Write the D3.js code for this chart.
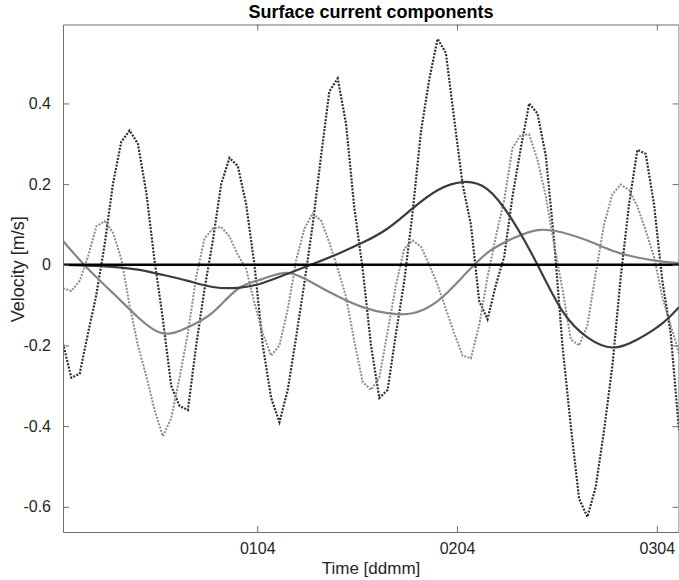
<!DOCTYPE html>
<html>
<head>
<meta charset="utf-8">
<script src="https://cdn.jsdelivr.net/npm/d3@7"></script>
<style>
	body { margin: 0; background: #fff; }
	svg { display: block; font-family: 'Liberation Sans', Arial, sans-serif; }
</style>
</head>
<body>
<svg id="chart" width="679" height="580"></svg>
<script>
'use strict';

// hourly samples, hour 0 = 31 Mar 00:40
const hours = d3.range(75);
const tideU = [-0.195, -0.28, -0.27, -0.17, -0.075, 0.05, 0.2, 0.305, 0.333, 0.3,
	0.18, 0.01, -0.135, -0.3, -0.35, -0.36, -0.2, -0.06, 0.06, 0.2,
	0.265, 0.245, 0.15, 0.0, -0.2, -0.33, -0.39, -0.31, -0.18, -0.045,
	0.1, 0.27, 0.43, 0.462, 0.35, 0.14, -0.01, -0.2, -0.33, -0.31,
	-0.17, -0.04, 0.13, 0.33, 0.46, 0.56, 0.525, 0.36, 0.2, 0.1,
	-0.09, -0.135, -0.05, 0.02, 0.17, 0.29, 0.4, 0.375, 0.27, 0.06,
	-0.2, -0.4, -0.58, -0.625, -0.55, -0.41, -0.25, -0.03, 0.15, 0.285,
	0.275, 0.15, -0.04, -0.17, -0.41];
const tideV = [-0.058, -0.065, -0.04, 0.02, 0.095, 0.108, 0.08, 0.015, -0.1, -0.2,
	-0.275, -0.36, -0.425, -0.38, -0.28, -0.17, -0.03, 0.065, 0.09, 0.094,
	0.07, 0.025, -0.01, -0.095, -0.17, -0.225, -0.2, -0.11, 0.01, 0.09,
	0.127, 0.11, 0.055, -0.01, -0.08, -0.19, -0.29, -0.31, -0.28, -0.165,
	-0.05, 0.04, 0.06, 0.045, 0.0, -0.05, -0.11, -0.17, -0.225, -0.232,
	-0.15, -0.03, 0.07, 0.16, 0.29, 0.322, 0.323, 0.26, 0.17, 0.05,
	-0.06, -0.185, -0.2, -0.15, -0.02, 0.1, 0.175, 0.199, 0.185, 0.145,
	0.085, 0.02, -0.08, -0.15, -0.22];

// residual components, every 3 hours
const residualHours = [0, 3, 6, 9, 12, 15, 18, 21, 24, 27, 30, 33, 36, 39, 42, 45, 48, 51, 54, 57, 60, 63, 66, 69, 72, 74];
const residualU = [0.0, -0.002, -0.005, -0.012, -0.025, -0.04, -0.055, -0.057, -0.045, -0.022,
	0.002, 0.027, 0.055, 0.09, 0.14, 0.185, 0.205, 0.187, 0.11, 0.0,
	-0.115, -0.18, -0.205, -0.185, -0.145, -0.105];
const residualV = [0.059, -0.01, -0.07, -0.13, -0.17, -0.155, -0.118, -0.06, -0.035, -0.02,
	-0.045, -0.078, -0.105, -0.12, -0.12, -0.09, -0.03, 0.03, 0.065, 0.086,
	0.08, 0.06, 0.035, 0.018, 0.008, 0.004];

const yTicks = [-0.6, -0.4, -0.2, 0, 0.2, 0.4];
const xTickLabels = ['0104', '0204', '0304'];

const startTime = new Date(Date.UTC(2021, 2, 31, 0, 40));
const toDate = h => new Date(startTime.getTime() + h * 3600e3);
const parseTick = d3.utcParse('%d%m%Y');
const xTickDates = xTickLabels.map(s => parseTick(s + '2021'));

const margin = {left: 63, right: 679, top: 24.5, bottom: 532};
const svg = d3.select('#chart');

const x = d3.scaleUtc()
	.domain([toDate(0), toDate(74)])
	.range([margin.left, margin.right]);
const y = d3.scaleLinear()
	.domain([-0.6624, 0.5957])
	.range([margin.bottom, margin.top]);

svg.append('clipPath').attr('id', 'clip')
	.append('rect')
	.attr('x', margin.left).attr('y', margin.top)
	.attr('width', margin.right - margin.left).attr('height', margin.bottom - margin.top);

const plot = svg.append('g').attr('clip-path', 'url(#clip)');

const hourlyLine = d3.line()
	.x((d, i) => x(toDate(hours[i])))
	.y(d => y(d));
const smoothLine = d3.line()
	.x((d, i) => x(toDate(residualHours[i])))
	.y(d => y(d))
	.curve(d3.curveNatural);

plot.append('path')
	.attr('d', hourlyLine(tideU))
	.style('fill', 'none')
	.style('stroke', '#2e2e2e')
	.style('stroke-width', 2.2)
	.style('stroke-dasharray', '2,1.4');
plot.append('path')
	.attr('d', hourlyLine(tideV))
	.style('fill', 'none')
	.style('stroke', '#8c8c8c')
	.style('stroke-width', 2)
	.style('stroke-dasharray', '2,1.4');
plot.append('path')
	.attr('d', smoothLine(residualV))
	.style('fill', 'none')
	.style('stroke', '#858585')
	.style('stroke-width', 2.2);
plot.append('path')
	.attr('d', smoothLine(residualU))
	.style('fill', 'none')
	.style('stroke', '#3c3c3c')
	.style('stroke-width', 2.2);
plot.append('line')
	.attr('x1', margin.left).attr('x2', margin.right)
	.attr('y1', y(0)).attr('y2', y(0))
	.style('stroke', '#000')
	.style('stroke-width', 2.5);

// axes box with inward ticks
const axisColor = '#6e6e6e';
const tickLen = 6;
const xFormat = d3.utcFormat('%d%m');

const bottomAxis = svg.append('g')
	.attr('transform', `translate(0,${margin.bottom})`)
	.call(d3.axisBottom(x).tickValues(xTickDates).tickFormat(xFormat).tickSizeInner(-tickLen).tickSizeOuter(0).tickPadding(11));
const topAxis = svg.append('g')
	.attr('transform', `translate(0,${margin.top})`)
	.call(d3.axisTop(x).tickValues(xTickDates).tickFormat('').tickSizeInner(-tickLen).tickSizeOuter(0));
const leftAxis = svg.append('g')
	.attr('transform', `translate(${margin.left},0)`)
	.call(d3.axisLeft(y).tickValues(yTicks).tickFormat(d => d === 0 ? '0' : d.toFixed(1)).tickSizeInner(-tickLen).tickSizeOuter(0).tickPadding(12));
const rightAxis = svg.append('g')
	.attr('transform', `translate(${margin.right - 0.5},0)`)
	.call(d3.axisRight(y).tickValues(yTicks).tickFormat('').tickSizeInner(-tickLen).tickSizeOuter(0));

for (const axis of [bottomAxis, topAxis, leftAxis, rightAxis]) {
	axis.selectAll('path, line').style('stroke', axisColor);
	axis.selectAll('text')
		.style('fill', '#262626')
		.style('font-size', '16px')
		.style('font-family', "'Liberation Sans', Arial, sans-serif");
}

svg.append('text')
	.attr('x', (margin.left + margin.right) / 2)
	.attr('y', 18)
	.attr('text-anchor', 'middle')
	.style('font-size', '18px')
	.style('font-weight', 'bold')
	.style('fill', '#000')
	.text('Surface current components');

svg.append('text')
	.attr('x', (margin.left + margin.right) / 2)
	.attr('y', 574)
	.attr('text-anchor', 'middle')
	.style('font-size', '17px')
	.style('fill', '#262626')
	.text('Time [ddmm]');

svg.append('text')
	.attr('transform', `translate(24,${(margin.top + margin.bottom) / 2 - 9}) rotate(-90)`)
	.attr('text-anchor', 'middle')
	.style('font-size', '18px')
	.style('fill', '#262626')
	.text('Velocity [m/s]');
</script>
</body>
</html>
